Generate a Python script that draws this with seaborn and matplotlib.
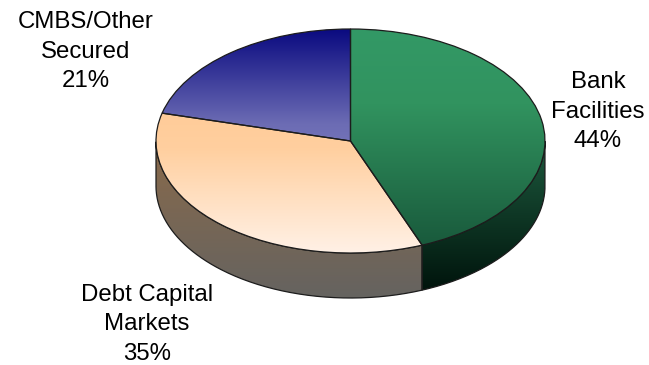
import numpy as np
import matplotlib
matplotlib.use("Agg")
import matplotlib.pyplot as plt
from matplotlib.colors import LinearSegmentedColormap
from matplotlib.patches import PathPatch
from matplotlib.path import Path
import seaborn as sns

labels = ["Bank\nFacilities", "Debt Capital\nMarkets", "CMBS/Other\nSecured"]
shares = [44, 35, 21]

top_stops = [
    [(0.0, "#339966"), (0.35, "#31935f"), (1.0, "#195a3c")],
    [(0.0, "#ffcc99"), (0.25, "#ffcf9f"), (1.0, "#fff1e6")],
    [(0.0, "#0a0a80"), (0.85, "#6c6cb4"), (1.0, "#7272b8")],
]
wall_stops = [
    [(0.0, "#1d5a3e"), (1.0, "#00140c")],
    [(0.0, "#8a6a4a"), (1.0, "#656360")],
    [(0.0, "#333366"), (1.0, "#333366")],
]
label_centres = [(598, 111.5), (147, 324.5), (86, 51.5)]

WIDTH, HEIGHT = 649, 365
CX, CY, RX, RY = 350.5, 141.0, 194.5, 112.0
DEPTH = 45.0 / RY
EDGE = "#1c1c1c"

sns.set_theme(style="white")
plt.rcParams["font.family"] = ["Liberation Sans", "DejaVu Sans"]

fig = plt.figure(figsize=(WIDTH / 100, HEIGHT / 100), dpi=100)
ax = fig.add_axes([0, 0, 1, 1])

wedges, _ = ax.pie(
    shares, startangle=90, counterclock=False, radius=1,
    wedgeprops={"facecolor": "none", "edgecolor": EDGE, "linewidth": 0.9, "zorder": 5},
)
ax.set_aspect("auto")


def gradient(stops, y_top, y_bottom, clip, zorder):
    """Paint a vertical colour ramp between two heights, clipped to a patch."""
    cmap = LinearSegmentedColormap.from_list("ramp", stops, N=256)
    ramp = np.linspace(0, 1, 256)[:, None]
    image = ax.imshow(ramp, cmap=cmap, vmin=0, vmax=1, aspect="auto", origin="upper",
                      extent=(-1.05, 1.05, y_bottom, y_top), zorder=zorder,
                      interpolation="bilinear")
    image.set_clip_path(clip)


for wedge, top, wall in zip(wedges, top_stops, wall_stops):
    # Wedge angles run from theta1 to theta2 anticlockwise; keep the part on the front rim.
    t1, t2 = wedge.theta1 % 360, wedge.theta2 % 360
    if t2 <= t1:
        t2 += 360
    angles = np.radians(np.linspace(t1, t2, 240))
    xs, ys = np.cos(angles), np.sin(angles)
    front = ys <= 0
    if front.any():
        fx, fy = xs[front], ys[front]
        verts = np.vstack([
            np.column_stack([fx, fy]),
            np.column_stack([fx[::-1], fy[::-1] - DEPTH]),
            [[fx[0], fy[0]]],
        ])
        wall_patch = PathPatch(Path(verts, closed=False), facecolor="none",
                               edgecolor=EDGE, linewidth=0.9, zorder=3)
        ax.add_patch(wall_patch)
        gradient(wall, verts[:, 1].max(), verts[:, 1].min(), wall_patch, 2)

    gradient(top, max(ys.max(), 0.0), min(ys.min(), 0.0), wedge, 4)

ax.set_xlim(-CX / RX, (WIDTH - CX) / RX)
ax.set_ylim((CY - HEIGHT) / RY, CY / RY)
ax.axis("off")

for label, share, (px, py) in zip(labels, shares, label_centres):
    ax.text((px - CX) / RX, (CY - py) / RY, f"{label}\n{share}%",
            ha="center", va="center", multialignment="center",
            fontsize=17.3, linespacing=1.46, color="black")

fig.savefig("out.png", dpi=100, facecolor="white")
